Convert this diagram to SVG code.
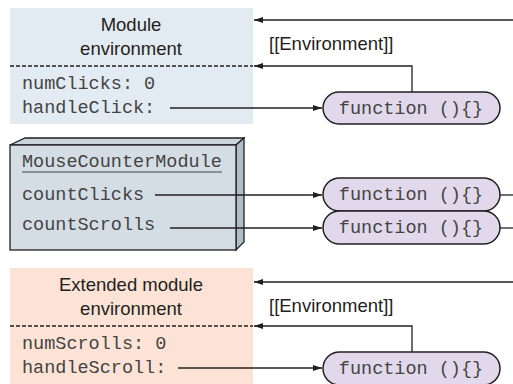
<svg xmlns="http://www.w3.org/2000/svg" width="513" height="384" viewBox="0 0 513 384">
<defs>
<marker id="ah" markerWidth="10" markerHeight="8" refX="9" refY="4" orient="auto" markerUnits="userSpaceOnUse">
<path d="M0,1 L9,4 L0,7 Z" fill="#231f20"/>
</marker>
<style>
.sans{font-family:"Liberation Sans",Arial,sans-serif;font-size:18.5px;fill:#231f20}
.mono{font-family:"Liberation Mono","Courier New",monospace;font-size:18.5px;fill:#444444}
.ln{stroke:#231f20;stroke-width:1.3;fill:none}
.dash{stroke:#231f20;stroke-width:1.3;stroke-dasharray:4 2;fill:none}
.pill{fill:#e1d9eb;stroke:#231f20;stroke-width:1.5}
</style>
</defs>
<rect width="513" height="384" fill="#ffffff"/>

<g id="module-env">
<rect x="10" y="8" width="243" height="116" fill="#e3ebf2"/>
<line class="dash" x1="10" y1="66" x2="253" y2="66"/>
<text class="sans" x="131" y="31" text-anchor="middle">Module</text>
<text class="sans" x="131" y="55" text-anchor="middle">environment</text>
<text class="mono" x="22" y="89">numClicks: 0</text>
<text class="mono" x="22" y="113">handleClick:</text>
</g>

<g id="mouse-counter-module">
<polygon points="10,145 25,138 244,138 236,145" fill="#c9d4dc" stroke="#231f20" stroke-width="1.3"/>
<polygon points="236,145 244,138 244,242 236,250" fill="#aebfca" stroke="#231f20" stroke-width="1.3"/>
<rect x="10" y="145" width="226" height="105" fill="#d4dde4" stroke="#231f20" stroke-width="1.3"/>
<text class="mono" x="22" y="167">MouseCounterModule</text>
<line x1="22" y1="172" x2="222" y2="172" stroke="#444444" stroke-width="1.2"/>
<text class="mono" x="22" y="200">countClicks</text>
<text class="mono" x="22" y="230">countScrolls</text>
</g>

<g id="extended-module-env">
<rect x="10" y="268" width="243" height="116" fill="#fde3d6"/>
<line class="dash" x1="10" y1="326" x2="253" y2="326"/>
<text class="sans" x="131" y="291" text-anchor="middle">Extended module</text>
<text class="sans" x="131" y="315" text-anchor="middle">environment</text>
<text class="mono" x="22" y="349">numScrolls: 0</text>
<text class="mono" x="22" y="373">handleScroll:</text>
</g>

<g id="connectors">
<line class="ln" x1="513" y1="20" x2="254" y2="20" marker-end="url(#ah)"/>
<polyline class="ln" points="412,92 412,66 254,66" marker-end="url(#ah)"/>
<line class="ln" x1="170" y1="108" x2="322" y2="108" marker-end="url(#ah)"/>
<line class="ln" x1="155" y1="195" x2="322" y2="195" marker-end="url(#ah)"/>
<line class="ln" x1="170" y1="228" x2="322" y2="228" marker-end="url(#ah)"/>
<line class="ln" x1="500" y1="195" x2="513" y2="195"/>
<line class="ln" x1="500" y1="228" x2="513" y2="228"/>
<line class="ln" x1="513" y1="282" x2="254" y2="282" marker-end="url(#ah)"/>
<polyline class="ln" points="412,352 412,326 254,326" marker-end="url(#ah)"/>
<line class="ln" x1="178" y1="368" x2="322" y2="368" marker-end="url(#ah)"/>
<text class="sans" x="269" y="50">[[Environment]]</text>
<text class="sans" x="269" y="312">[[Environment]]</text>
</g>

<g id="fn-handleClick">
<rect class="pill" x="323" y="92" width="177" height="32" rx="16" ry="16"/>
<text class="mono" x="411" y="114" text-anchor="middle">function (){}</text>
</g>
<g id="fn-countClicks">
<rect class="pill" x="323" y="178" width="177" height="33" rx="16.5" ry="16.5"/>
<text class="mono" x="411" y="200" text-anchor="middle">function (){}</text>
</g>
<g id="fn-countScrolls">
<rect class="pill" x="323" y="211" width="177" height="33" rx="16.5" ry="16.5"/>
<text class="mono" x="411" y="233" text-anchor="middle">function (){}</text>
</g>
<g id="fn-handleScroll">
<rect class="pill" x="323" y="352" width="177" height="33" rx="16.5" ry="16.5"/>
<text class="mono" x="411" y="374" text-anchor="middle">function (){}</text>
</g>
</svg>
